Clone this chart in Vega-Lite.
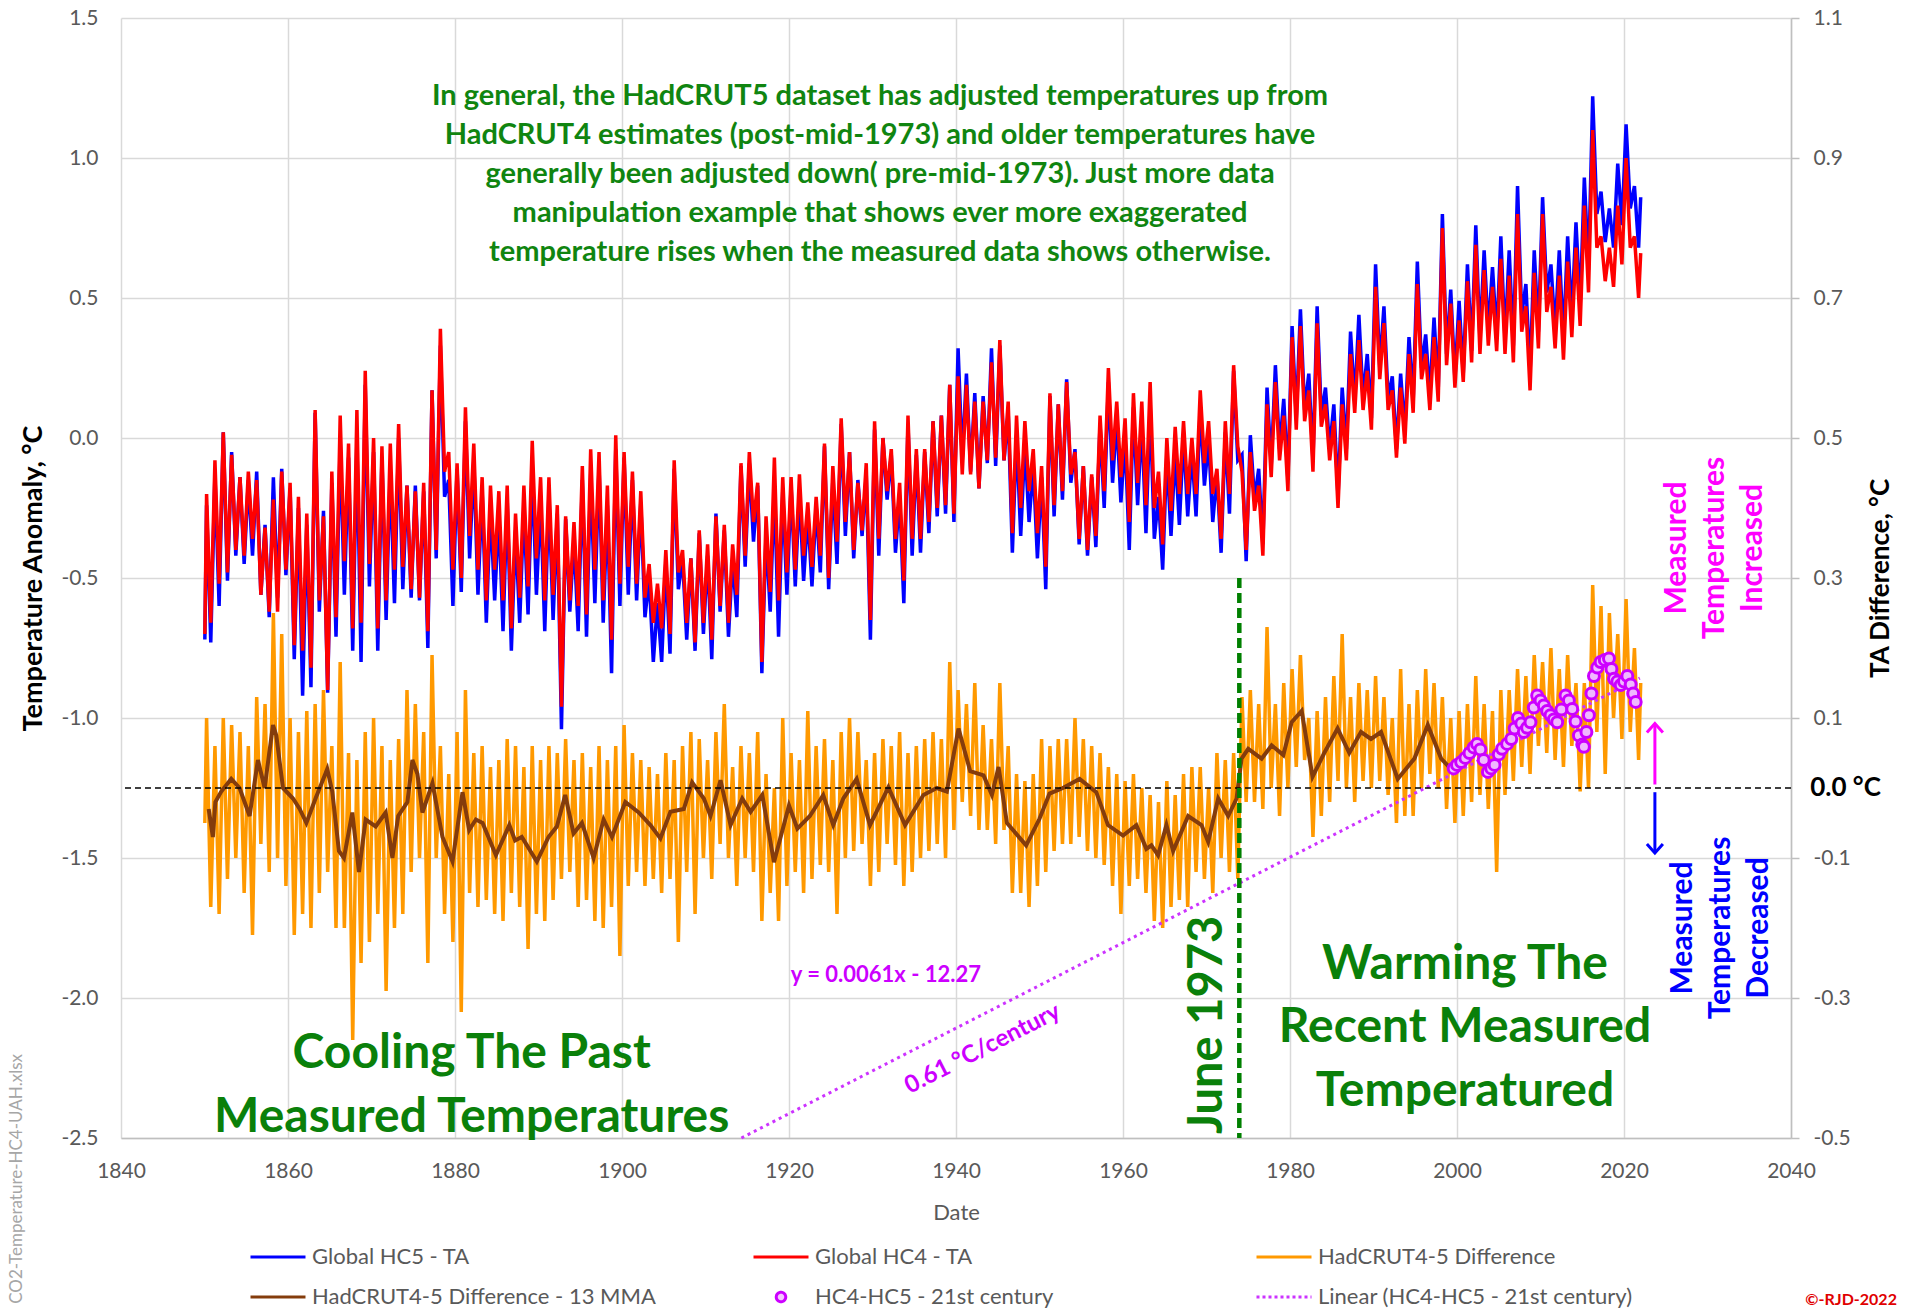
{
"$schema":"https://vega.github.io/schema/vega-lite/v6.json",
"width":1670,"height":1120,
"autosize":{"type":"none"},
"padding":{"left":121,"top":18,"right":117,"bottom":170},
"background":"white",
"config":{"view":{"stroke":null},"text":{"font":"Lato"},"axis":{"labelFont":"Lato","titleFont":"Lato"},"legend":{"labelFont":"Lato"}},
"datasets":{
"main":[
{"t":1850.04,"a":-0.70,"b":-0.72,"d":-0.05},
{"t":1850.25,"a":-0.20,"b":-0.24,"d":0.10},{"t":1850.75,"a":-0.66,"b":-0.73,"d":-0.17},
{"t":1851.25,"a":-0.08,"b":-0.13,"d":0.06},{"t":1851.75,"a":-0.52,"b":-0.60,"d":-0.18},
{"t":1852.25,"a":0.02,"b":0.02,"d":0.10},{"t":1852.75,"a":-0.48,"b":-0.51,"d":-0.13},
{"t":1853.25,"a":-0.06,"b":-0.05,"d":0.09},{"t":1853.75,"a":-0.40,"b":-0.42,"d":-0.10},
{"t":1854.25,"a":-0.14,"b":-0.14,"d":0.08},{"t":1854.75,"a":-0.42,"b":-0.45,"d":-0.15},
{"t":1855.25,"a":-0.12,"b":-0.15,"d":0.06},{"t":1855.75,"a":-0.36,"b":-0.42,"d":-0.21},
{"t":1856.25,"a":-0.15,"b":-0.12,"d":0.13},{"t":1856.75,"a":-0.56,"b":-0.56,"d":-0.08},
{"t":1857.25,"a":-0.32,"b":-0.31,"d":0.12},{"t":1857.75,"a":-0.62,"b":-0.64,"d":-0.12},
{"t":1858.25,"a":-0.22,"b":-0.14,"d":0.25},{"t":1858.75,"a":-0.62,"b":-0.57,"d":-0.10},
{"t":1859.25,"a":-0.12,"b":-0.11,"d":0.22},{"t":1859.75,"a":-0.47,"b":-0.49,"d":-0.14},
{"t":1860.25,"a":-0.16,"b":-0.18,"d":0.10},{"t":1860.75,"a":-0.74,"b":-0.79,"d":-0.21},
{"t":1861.25,"a":-0.21,"b":-0.25,"d":0.08},{"t":1861.75,"a":-0.76,"b":-0.92,"d":-0.18},
{"t":1862.25,"a":-0.27,"b":-0.31,"d":0.11},{"t":1862.75,"a":-0.82,"b":-0.89,"d":-0.20},
{"t":1863.25,"a":0.10,"b":0.09,"d":0.12},{"t":1863.75,"a":-0.58,"b":-0.62,"d":-0.15},
{"t":1864.25,"a":-0.28,"b":-0.26,"d":0.14},{"t":1864.75,"a":-0.90,"b":-0.91,"d":-0.12},
{"t":1865.25,"a":-0.12,"b":-0.16,"d":0.06},{"t":1865.75,"a":-0.64,"b":-0.71,"d":-0.20},
{"t":1866.25,"a":0.08,"b":-0.01,"d":0.18},{"t":1866.75,"a":-0.44,"b":-0.56,"d":-0.20},
{"t":1867.25,"a":-0.02,"b":-0.07,"d":0.05},{"t":1867.75,"a":-0.68,"b":-0.76,"d":-0.36},
{"t":1868.25,"a":0.10,"b":-0.01,"d":0.04},{"t":1868.75,"a":-0.66,"b":-0.80,"d":-0.25},
{"t":1869.25,"a":0.24,"b":0.19,"d":0.08},{"t":1869.75,"a":-0.45,"b":-0.53,"d":-0.22},
{"t":1870.25,"a":0.00,"b":-0.05,"d":0.10},{"t":1870.75,"a":-0.68,"b":-0.76,"d":-0.18},
{"t":1871.25,"a":-0.03,"b":-0.07,"d":0.06},{"t":1871.75,"a":-0.58,"b":-0.65,"d":-0.29},
{"t":1872.25,"a":-0.02,"b":-0.11,"d":0.04},{"t":1872.75,"a":-0.47,"b":-0.59,"d":-0.20},
{"t":1873.25,"a":0.05,"b":0.00,"d":0.07},{"t":1873.75,"a":-0.46,"b":-0.54,"d":-0.18},
{"t":1874.25,"a":-0.17,"b":-0.17,"d":0.14},{"t":1874.75,"a":-0.54,"b":-0.57,"d":-0.12},
{"t":1875.25,"a":-0.19,"b":-0.17,"d":0.12},{"t":1875.75,"a":-0.57,"b":-0.58,"d":-0.10},
{"t":1876.25,"a":-0.16,"b":-0.19,"d":0.08},{"t":1876.75,"a":-0.69,"b":-0.75,"d":-0.25},
{"t":1877.25,"a":0.17,"b":0.17,"d":0.19},{"t":1877.75,"a":-0.40,"b":-0.43,"d":-0.10},
{"t":1878.25,"a":0.39,"b":0.33,"d":0.06},{"t":1878.75,"a":-0.12,"b":-0.21,"d":-0.18},
{"t":1879.25,"a":-0.05,"b":-0.15,"d":0.02},{"t":1879.75,"a":-0.47,"b":-0.60,"d":-0.22},
{"t":1880.25,"a":-0.09,"b":-0.11,"d":0.08},{"t":1880.75,"a":-0.50,"b":-0.55,"d":-0.32},
{"t":1881.25,"a":0.11,"b":0.06,"d":0.14},{"t":1881.75,"a":-0.35,"b":-0.43,"d":-0.15},
{"t":1882.25,"a":-0.02,"b":-0.08,"d":0.05},{"t":1882.75,"a":-0.47,"b":-0.56,"d":-0.17},
{"t":1883.25,"a":-0.14,"b":-0.19,"d":0.06},{"t":1883.75,"a":-0.58,"b":-0.66,"d":-0.16},
{"t":1884.25,"a":-0.17,"b":-0.25,"d":0.03},{"t":1884.75,"a":-0.47,"b":-0.58,"d":-0.18},
{"t":1885.25,"a":-0.19,"b":-0.27,"d":0.04},{"t":1885.75,"a":-0.58,"b":-0.69,"d":-0.19},
{"t":1886.25,"a":-0.17,"b":-0.22,"d":0.07},{"t":1886.75,"a":-0.68,"b":-0.76,"d":-0.15},
{"t":1887.25,"a":-0.27,"b":-0.33,"d":0.06},{"t":1887.75,"a":-0.57,"b":-0.66,"d":-0.17},
{"t":1888.25,"a":-0.17,"b":-0.24,"d":0.03},{"t":1888.75,"a":-0.53,"b":-0.63,"d":-0.23},
{"t":1889.25,"a":-0.01,"b":-0.11,"d":0.06},{"t":1889.75,"a":-0.43,"b":-0.56,"d":-0.18},
{"t":1890.25,"a":-0.14,"b":-0.22,"d":0.04},{"t":1890.75,"a":-0.58,"b":-0.69,"d":-0.19},
{"t":1891.25,"a":-0.14,"b":-0.20,"d":0.06},{"t":1891.75,"a":-0.56,"b":-0.65,"d":-0.16},
{"t":1892.25,"a":-0.24,"b":-0.27,"d":0.05},{"t":1892.75,"a":-0.96,"b":-1.04,"d":-0.13},
{"t":1893.25,"a":-0.28,"b":-0.29,"d":0.07},{"t":1893.75,"a":-0.58,"b":-0.62,"d":-0.12},
{"t":1894.25,"a":-0.30,"b":-0.36,"d":0.04},{"t":1894.75,"a":-0.60,"b":-0.69,"d":-0.17},
{"t":1895.25,"a":-0.10,"b":-0.15,"d":0.05},{"t":1895.75,"a":-0.63,"b":-0.71,"d":-0.16},
{"t":1896.25,"a":-0.04,"b":-0.13,"d":0.03},{"t":1896.75,"a":-0.47,"b":-0.59,"d":-0.19},
{"t":1897.25,"a":-0.05,"b":-0.10,"d":0.06},{"t":1897.75,"a":-0.58,"b":-0.66,"d":-0.20},
{"t":1898.25,"a":-0.17,"b":-0.24,"d":0.04},{"t":1898.75,"a":-0.72,"b":-0.84,"d":-0.17},
{"t":1899.25,"a":0.01,"b":-0.04,"d":0.06},{"t":1899.75,"a":-0.52,"b":-0.60,"d":-0.24},
{"t":1900.25,"a":-0.05,"b":-0.07,"d":0.09},{"t":1900.75,"a":-0.46,"b":-0.56,"d":-0.14},
{"t":1901.25,"a":-0.12,"b":-0.15,"d":0.05},{"t":1901.75,"a":-0.52,"b":-0.58,"d":-0.12},
{"t":1902.25,"a":-0.19,"b":-0.23,"d":0.04},{"t":1902.75,"a":-0.57,"b":-0.64,"d":-0.14},
{"t":1903.25,"a":-0.45,"b":-0.50,"d":0.03},{"t":1903.75,"a":-0.66,"b":-0.80,"d":-0.13},
{"t":1904.25,"a":-0.52,"b":-0.59,"d":0.02},{"t":1904.75,"a":-0.68,"b":-0.80,"d":-0.15},
{"t":1905.25,"a":-0.40,"b":-0.44,"d":0.05},{"t":1905.75,"a":-0.70,"b":-0.77,"d":-0.13},
{"t":1906.25,"a":-0.08,"b":-0.11,"d":0.04},{"t":1906.75,"a":-0.48,"b":-0.54,"d":-0.22},
{"t":1907.25,"a":-0.40,"b":-0.43,"d":0.06},{"t":1907.75,"a":-0.66,"b":-0.72,"d":-0.12},
{"t":1908.25,"a":-0.43,"b":-0.43,"d":0.08},{"t":1908.75,"a":-0.73,"b":-0.76,"d":-0.18},
{"t":1909.25,"a":-0.33,"b":-0.34,"d":0.07},{"t":1909.75,"a":-0.66,"b":-0.70,"d":-0.10},
{"t":1910.25,"a":-0.38,"b":-0.42,"d":0.04},{"t":1910.75,"a":-0.72,"b":-0.79,"d":-0.13},
{"t":1911.25,"a":-0.28,"b":-0.27,"d":0.08},{"t":1911.75,"a":-0.60,"b":-0.62,"d":-0.08},
{"t":1912.25,"a":-0.31,"b":-0.33,"d":0.12},{"t":1912.75,"a":-0.66,"b":-0.71,"d":-0.10},
{"t":1913.25,"a":-0.38,"b":-0.43,"d":0.03},{"t":1913.75,"a":-0.56,"b":-0.64,"d":-0.14},
{"t":1914.25,"a":-0.09,"b":-0.10,"d":0.06},{"t":1914.75,"a":-0.42,"b":-0.46,"d":-0.10},
{"t":1915.25,"a":-0.05,"b":-0.09,"d":0.05},{"t":1915.75,"a":-0.30,"b":-0.37,"d":-0.12},
{"t":1916.25,"a":-0.16,"b":-0.17,"d":0.08},{"t":1916.75,"a":-0.80,"b":-0.84,"d":-0.19},
{"t":1917.25,"a":-0.28,"b":-0.34,"d":0.02},{"t":1917.75,"a":-0.55,"b":-0.62,"d":-0.15},
{"t":1918.25,"a":-0.07,"b":-0.17,"d":0.00},{"t":1918.75,"a":-0.58,"b":-0.71,"d":-0.19},
{"t":1919.25,"a":-0.14,"b":-0.19,"d":0.10},{"t":1919.75,"a":-0.48,"b":-0.56,"d":-0.14},
{"t":1920.25,"a":-0.14,"b":-0.17,"d":0.05},{"t":1920.75,"a":-0.47,"b":-0.53,"d":-0.12},
{"t":1921.25,"a":-0.13,"b":-0.19,"d":0.04},{"t":1921.75,"a":-0.42,"b":-0.51,"d":-0.15},
{"t":1922.25,"a":-0.23,"b":-0.27,"d":0.11},{"t":1922.75,"a":-0.46,"b":-0.53,"d":-0.13},
{"t":1923.25,"a":-0.21,"b":-0.24,"d":0.06},{"t":1923.75,"a":-0.42,"b":-0.48,"d":-0.11},
{"t":1924.25,"a":-0.02,"b":-0.03,"d":0.07},{"t":1924.75,"a":-0.50,"b":-0.54,"d":-0.12},
{"t":1925.25,"a":-0.10,"b":-0.15,"d":0.04},{"t":1925.75,"a":-0.37,"b":-0.45,"d":-0.18},
{"t":1926.25,"a":0.07,"b":0.05,"d":0.08},{"t":1926.75,"a":-0.30,"b":-0.35,"d":-0.10},
{"t":1927.25,"a":-0.05,"b":-0.05,"d":0.10},{"t":1927.75,"a":-0.40,"b":-0.43,"d":-0.09},
{"t":1928.25,"a":-0.16,"b":-0.15,"d":0.08},{"t":1928.75,"a":-0.33,"b":-0.35,"d":-0.08},
{"t":1929.25,"a":-0.09,"b":-0.13,"d":0.04},{"t":1929.75,"a":-0.65,"b":-0.72,"d":-0.14},
{"t":1930.25,"a":0.06,"b":0.03,"d":0.05},{"t":1930.75,"a":-0.36,"b":-0.42,"d":-0.12},
{"t":1931.25,"a":0.00,"b":0.00,"d":0.07},{"t":1931.75,"a":-0.19,"b":-0.22,"d":-0.08},
{"t":1932.25,"a":-0.04,"b":-0.06,"d":0.06},{"t":1932.75,"a":-0.36,"b":-0.41,"d":-0.11},
{"t":1933.25,"a":-0.16,"b":-0.21,"d":0.08},{"t":1933.75,"a":-0.51,"b":-0.59,"d":-0.14},
{"t":1934.25,"a":0.08,"b":0.05,"d":0.05},{"t":1934.75,"a":-0.36,"b":-0.42,"d":-0.12},
{"t":1935.25,"a":-0.04,"b":-0.06,"d":0.06},{"t":1935.75,"a":-0.36,"b":-0.41,"d":-0.10},
{"t":1936.25,"a":-0.04,"b":-0.05,"d":0.07},{"t":1936.75,"a":-0.30,"b":-0.34,"d":-0.09},
{"t":1937.25,"a":0.06,"b":0.06,"d":0.08},{"t":1937.75,"a":-0.25,"b":-0.28,"d":-0.08},
{"t":1938.25,"a":0.08,"b":0.08,"d":0.07},{"t":1938.75,"a":-0.24,"b":-0.27,"d":-0.10},
{"t":1939.25,"a":0.19,"b":0.19,"d":0.18},{"t":1939.75,"a":-0.27,"b":-0.30,"d":-0.06},
{"t":1940.25,"a":0.22,"b":0.32,"d":0.14},{"t":1940.75,"a":-0.13,"b":-0.08,"d":-0.02},
{"t":1941.25,"a":0.19,"b":0.23,"d":0.12},{"t":1941.75,"a":-0.13,"b":-0.12,"d":-0.04},
{"t":1942.25,"a":0.13,"b":0.16,"d":0.15},{"t":1942.75,"a":-0.18,"b":-0.18,"d":-0.06},
{"t":1943.25,"a":0.13,"b":0.15,"d":0.09},{"t":1943.75,"a":-0.08,"b":-0.09,"d":-0.06},
{"t":1944.25,"a":0.27,"b":0.32,"d":0.07},{"t":1944.75,"a":-0.07,"b":-0.10,"d":-0.08},
{"t":1945.25,"a":0.35,"b":0.33,"d":0.15},{"t":1945.75,"a":-0.08,"b":-0.08,"d":-0.06},
{"t":1946.25,"a":0.13,"b":0.09,"d":0.06},{"t":1946.75,"a":-0.34,"b":-0.41,"d":-0.15},
{"t":1947.25,"a":0.08,"b":0.01,"d":0.02},{"t":1947.75,"a":-0.25,"b":-0.35,"d":-0.15},
{"t":1948.25,"a":0.06,"b":-0.02,"d":0.01},{"t":1948.75,"a":-0.19,"b":-0.30,"d":-0.17},
{"t":1949.25,"a":-0.04,"b":-0.10,"d":0.02},{"t":1949.75,"a":-0.34,"b":-0.43,"d":-0.14},
{"t":1950.25,"a":-0.10,"b":-0.14,"d":0.07},{"t":1950.75,"a":-0.46,"b":-0.54,"d":-0.12},
{"t":1951.25,"a":0.16,"b":0.15,"d":0.06},{"t":1951.75,"a":-0.24,"b":-0.28,"d":-0.09},
{"t":1952.25,"a":0.12,"b":0.12,"d":0.07},{"t":1952.75,"a":-0.19,"b":-0.22,"d":-0.08},
{"t":1953.25,"a":0.20,"b":0.21,"d":0.07},{"t":1953.75,"a":-0.13,"b":-0.16,"d":-0.08},
{"t":1954.25,"a":-0.05,"b":-0.04,"d":0.10},{"t":1954.75,"a":-0.36,"b":-0.38,"d":-0.07},
{"t":1955.25,"a":-0.10,"b":-0.10,"d":0.07},{"t":1955.75,"a":-0.40,"b":-0.42,"d":-0.09},
{"t":1956.25,"a":-0.13,"b":-0.14,"d":0.06},{"t":1956.75,"a":-0.35,"b":-0.39,"d":-0.10},
{"t":1957.25,"a":0.08,"b":0.05,"d":0.05},{"t":1957.75,"a":-0.19,"b":-0.25,"d":-0.11},
{"t":1958.25,"a":0.25,"b":0.20,"d":0.03},{"t":1958.75,"a":-0.08,"b":-0.16,"d":-0.14},
{"t":1959.25,"a":0.13,"b":0.07,"d":0.02},{"t":1959.75,"a":-0.14,"b":-0.23,"d":-0.18},
{"t":1960.25,"a":0.07,"b":0.00,"d":0.01},{"t":1960.75,"a":-0.30,"b":-0.40,"d":-0.14},
{"t":1961.25,"a":0.16,"b":0.11,"d":0.02},{"t":1961.75,"a":-0.16,"b":-0.24,"d":-0.13},
{"t":1962.25,"a":0.13,"b":0.06,"d":0.00},{"t":1962.75,"a":-0.24,"b":-0.34,"d":-0.15},
{"t":1963.25,"a":0.20,"b":0.12,"d":-0.01},{"t":1963.75,"a":-0.25,"b":-0.36,"d":-0.19},
{"t":1964.25,"a":-0.12,"b":-0.21,"d":-0.02},{"t":1964.75,"a":-0.38,"b":-0.47,"d":-0.20},
{"t":1965.25,"a":0.00,"b":-0.06,"d":0.01},{"t":1965.75,"a":-0.26,"b":-0.35,"d":-0.17},
{"t":1966.25,"a":0.04,"b":-0.05,"d":-0.01},{"t":1966.75,"a":-0.20,"b":-0.31,"d":-0.16},
{"t":1967.25,"a":0.06,"b":0.01,"d":0.02},{"t":1967.75,"a":-0.20,"b":-0.28,"d":-0.17},
{"t":1968.25,"a":0.00,"b":-0.05,"d":0.03},{"t":1968.75,"a":-0.20,"b":-0.28,"d":-0.12},
{"t":1969.25,"a":0.17,"b":0.11,"d":0.03},{"t":1969.75,"a":-0.09,"b":-0.17,"d":-0.13},
{"t":1970.25,"a":0.06,"b":-0.01,"d":0.00},{"t":1970.75,"a":-0.20,"b":-0.30,"d":-0.15},
{"t":1971.25,"a":-0.11,"b":-0.13,"d":0.05},{"t":1971.75,"a":-0.36,"b":-0.41,"d":-0.10},
{"t":1972.25,"a":0.06,"b":0.02,"d":0.04},{"t":1972.75,"a":-0.20,"b":-0.27,"d":-0.12},
{"t":1973.25,"a":0.26,"b":0.24,"d":0.05},{"t":1973.75,"a":-0.03,"b":-0.08,"d":-0.13},
{"t":1974.25,"a":-0.12,"b":-0.06,"d":0.13},{"t":1974.75,"a":-0.40,"b":-0.44,"d":-0.02},
{"t":1975.25,"a":-0.05,"b":0.01,"d":0.14},{"t":1975.75,"a":-0.26,"b":-0.22,"d":-0.02},
{"t":1976.25,"a":-0.17,"b":-0.11,"d":0.12},{"t":1976.75,"a":-0.42,"b":-0.38,"d":-0.03},
{"t":1977.25,"a":0.12,"b":0.18,"d":0.23},{"t":1977.75,"a":-0.14,"b":-0.10,"d":0.00},
{"t":1978.25,"a":0.20,"b":0.26,"d":0.12},{"t":1978.75,"a":-0.08,"b":-0.04,"d":-0.04},
{"t":1979.25,"a":0.08,"b":0.14,"d":0.15},{"t":1979.75,"a":-0.19,"b":-0.15,"d":0.00},
{"t":1980.25,"a":0.36,"b":0.40,"d":0.17},{"t":1980.75,"a":0.03,"b":0.07,"d":0.03},
{"t":1981.25,"a":0.40,"b":0.46,"d":0.19},{"t":1981.75,"a":0.06,"b":0.10,"d":0.04},
{"t":1982.25,"a":0.17,"b":0.23,"d":0.10},{"t":1982.75,"a":-0.12,"b":-0.08,"d":-0.07},
{"t":1983.25,"a":0.41,"b":0.47,"d":0.11},{"t":1983.75,"a":0.04,"b":0.08,"d":-0.04},
{"t":1984.25,"a":0.12,"b":0.18,"d":0.13},{"t":1984.75,"a":-0.08,"b":-0.04,"d":-0.02},
{"t":1985.25,"a":0.06,"b":0.12,"d":0.16},{"t":1985.75,"a":-0.25,"b":-0.21,"d":0.01},
{"t":1986.25,"a":0.12,"b":0.18,"d":0.22},{"t":1986.75,"a":-0.08,"b":-0.04,"d":0.00},
{"t":1987.25,"a":0.30,"b":0.38,"d":0.13},{"t":1987.75,"a":0.09,"b":0.13,"d":-0.02},
{"t":1988.25,"a":0.35,"b":0.44,"d":0.15},{"t":1988.75,"a":0.10,"b":0.14,"d":0.01},
{"t":1989.25,"a":0.24,"b":0.30,"d":0.14},{"t":1989.75,"a":0.03,"b":0.07,"d":0.00},
{"t":1990.25,"a":0.54,"b":0.62,"d":0.16},{"t":1990.75,"a":0.21,"b":0.25,"d":0.01},
{"t":1991.25,"a":0.41,"b":0.47,"d":0.13},{"t":1991.75,"a":0.10,"b":0.14,"d":-0.01},
{"t":1992.25,"a":0.17,"b":0.22,"d":0.10},{"t":1992.75,"a":-0.07,"b":-0.04,"d":-0.05},
{"t":1993.25,"a":0.18,"b":0.23,"d":0.17},{"t":1993.75,"a":-0.02,"b":0.02,"d":-0.04},
{"t":1994.25,"a":0.30,"b":0.36,"d":0.12},{"t":1994.75,"a":0.09,"b":0.13,"d":-0.04},
{"t":1995.25,"a":0.55,"b":0.63,"d":0.14},{"t":1995.75,"a":0.21,"b":0.25,"d":0.00},
{"t":1996.25,"a":0.30,"b":0.37,"d":0.17},{"t":1996.75,"a":0.10,"b":0.15,"d":0.02},
{"t":1997.25,"a":0.36,"b":0.43,"d":0.15},{"t":1997.75,"a":0.13,"b":0.17,"d":0.00},
{"t":1998.25,"a":0.75,"b":0.80,"d":0.13},{"t":1998.75,"a":0.26,"b":0.30,"d":-0.03},
{"t":1999.25,"a":0.48,"b":0.53,"d":0.10},{"t":1999.75,"a":0.18,"b":0.21,"d":-0.05},
{"t":2000.25,"a":0.42,"b":0.49,"d":0.11},{"t":2000.75,"a":0.20,"b":0.23,"d":-0.04},
{"t":2001.25,"a":0.56,"b":0.62,"d":0.12},{"t":2001.75,"a":0.27,"b":0.31,"d":-0.02},
{"t":2002.25,"a":0.69,"b":0.76,"d":0.16},{"t":2002.75,"a":0.30,"b":0.35,"d":-0.01},
{"t":2003.25,"a":0.60,"b":0.67,"d":0.12},{"t":2003.75,"a":0.33,"b":0.38,"d":-0.03},
{"t":2004.25,"a":0.54,"b":0.61,"d":0.11},{"t":2004.75,"a":0.31,"b":0.36,"d":-0.12},
{"t":2005.25,"a":0.64,"b":0.72,"d":0.14},{"t":2005.75,"a":0.30,"b":0.35,"d":-0.01},
{"t":2006.25,"a":0.58,"b":0.67,"d":0.14},{"t":2006.75,"a":0.27,"b":0.33,"d":0.01},
{"t":2007.25,"a":0.80,"b":0.90,"d":0.17},{"t":2007.75,"a":0.38,"b":0.44,"d":0.03},
{"t":2008.25,"a":0.47,"b":0.55,"d":0.16},{"t":2008.75,"a":0.17,"b":0.23,"d":0.02},
{"t":2009.25,"a":0.59,"b":0.67,"d":0.19},{"t":2009.75,"a":0.32,"b":0.38,"d":0.06},
{"t":2010.25,"a":0.80,"b":0.86,"d":0.18},{"t":2010.75,"a":0.45,"b":0.52,"d":0.05},
{"t":2011.25,"a":0.54,"b":0.62,"d":0.20},{"t":2011.75,"a":0.32,"b":0.38,"d":0.04},
{"t":2012.25,"a":0.58,"b":0.67,"d":0.17},{"t":2012.75,"a":0.28,"b":0.35,"d":0.03},
{"t":2013.25,"a":0.63,"b":0.72,"d":0.19},{"t":2013.75,"a":0.36,"b":0.43,"d":0.06},
{"t":2014.25,"a":0.68,"b":0.77,"d":0.15},{"t":2014.75,"a":0.40,"b":0.47,"d":-0.005},
{"t":2015.25,"a":0.83,"b":0.93,"d":0.15},{"t":2015.75,"a":0.52,"b":0.60,"d":0.00},
{"t":2016.25,"a":1.10,"b":1.22,"d":0.29},{"t":2016.75,"a":0.68,"b":0.80,"d":0.08},
{"t":2017.25,"a":0.72,"b":0.88,"d":0.26},{"t":2017.75,"a":0.56,"b":0.70,"d":0.02},
{"t":2018.25,"a":0.68,"b":0.82,"d":0.25},{"t":2018.75,"a":0.54,"b":0.68,"d":0.10},
{"t":2019.25,"a":0.83,"b":0.98,"d":0.22},{"t":2019.75,"a":0.62,"b":0.76,"d":0.07},
{"t":2020.25,"a":1.00,"b":1.12,"d":0.27},{"t":2020.75,"a":0.68,"b":0.82,"d":0.08},
{"t":2021.25,"a":0.72,"b":0.90,"d":0.20},{"t":2021.75,"a":0.50,"b":0.68,"d":0.04},
{"t":2022.0,"a":0.66,"b":0.86,"d":0.15}
],
"mma":[
{"t":1850.5,"m":-0.03},{"t":1851.0,"m":-0.07},{"t":1851.3,"m":-0.02},{"t":1852.0,"m":-0.005},{"t":1853.2,"m":0.013},{"t":1854.2,"m":0.0},{"t":1855.4,"m":-0.04},{"t":1856.4,"m":0.04},{"t":1857.2,"m":0.0},{"t":1858.2,"m":0.09},{"t":1858.6,"m":0.075},{"t":1859.4,"m":0.0},{"t":1860.6,"m":-0.015},{"t":1861.4,"m":-0.03},{"t":1862.2,"m":-0.05},{"t":1863.3,"m":-0.015},{"t":1864.7,"m":0.027},{"t":1865.3,"m":-0.005},{"t":1866.1,"m":-0.09},{"t":1866.7,"m":-0.1},{"t":1867.7,"m":-0.035},{"t":1868.5,"m":-0.12},{"t":1869.3,"m":-0.045},{"t":1870.5,"m":-0.055},{"t":1871.7,"m":-0.035},{"t":1872.5,"m":-0.1},{"t":1873.2,"m":-0.04},{"t":1874.3,"m":-0.02},{"t":1874.9,"m":0.04},{"t":1875.5,"m":0.02},{"t":1876.1,"m":-0.035},{"t":1877.3,"m":0.007},{"t":1878.5,"m":-0.07},{"t":1879.7,"m":-0.105},{"t":1880.9,"m":-0.006},{"t":1881.7,"m":-0.06},{"t":1882.5,"m":-0.045},{"t":1883.3,"m":-0.05},{"t":1884.9,"m":-0.096},{"t":1886.5,"m":-0.053},{"t":1887.2,"m":-0.075},{"t":1888.0,"m":-0.07},{"t":1889.8,"m":-0.105},{"t":1891.2,"m":-0.07},{"t":1892.2,"m":-0.055},{"t":1893.2,"m":-0.01},{"t":1894.2,"m":-0.065},{"t":1895.2,"m":-0.05},{"t":1896.6,"m":-0.1},{"t":1897.8,"m":-0.045},{"t":1898.8,"m":-0.07},{"t":1900.4,"m":-0.02},{"t":1902.0,"m":-0.035},{"t":1903.4,"m":-0.053},{"t":1904.6,"m":-0.072},{"t":1905.8,"m":-0.034},{"t":1907.4,"m":-0.03},{"t":1908.4,"m":0.008},{"t":1909.8,"m":-0.015},{"t":1910.6,"m":-0.04},{"t":1911.8,"m":0.011},{"t":1913.0,"m":-0.053},{"t":1914.4,"m":-0.015},{"t":1915.4,"m":-0.034},{"t":1916.8,"m":-0.01},{"t":1918.2,"m":-0.106},{"t":1920.0,"m":-0.025},{"t":1921.0,"m":-0.058},{"t":1922.5,"m":-0.04},{"t":1924.1,"m":-0.01},{"t":1925.3,"m":-0.053},{"t":1926.5,"m":-0.015},{"t":1928.1,"m":0.013},{"t":1929.7,"m":-0.053},{"t":1931.9,"m":0.001},{"t":1933.9,"m":-0.053},{"t":1936.1,"m":-0.01},{"t":1937.7,"m":0.0},{"t":1938.9,"m":-0.005},{"t":1940.3,"m":0.085},{"t":1941.7,"m":0.024},{"t":1943.3,"m":0.018},{"t":1944.3,"m":-0.01},{"t":1945.1,"m":0.03},{"t":1946.1,"m":-0.05},{"t":1948.4,"m":-0.082},{"t":1950.0,"m":-0.044},{"t":1951.2,"m":-0.008},{"t":1952.8,"m":0.0},{"t":1954.8,"m":0.013},{"t":1956.8,"m":-0.006},{"t":1958.2,"m":-0.053},{"t":1960.0,"m":-0.068},{"t":1961.6,"m":-0.053},{"t":1962.8,"m":-0.087},{"t":1963.4,"m":-0.082},{"t":1964.2,"m":-0.096},{"t":1965.2,"m":-0.053},{"t":1966.0,"m":-0.09},{"t":1967.8,"m":-0.04},{"t":1969.4,"m":-0.053},{"t":1970.2,"m":-0.077},{"t":1971.4,"m":-0.015},{"t":1972.6,"m":-0.04},{"t":1973.6,"m":-0.015},{"t":1974.2,"m":0.042},{"t":1975.0,"m":0.056},{"t":1976.6,"m":0.042},{"t":1977.8,"m":0.061},{"t":1979.2,"m":0.047},{"t":1980.2,"m":0.094},{"t":1981.4,"m":0.11},{"t":1982.7,"m":0.016},{"t":1984.1,"m":0.05},{"t":1985.7,"m":0.085},{"t":1987.1,"m":0.05},{"t":1988.5,"m":0.08},{"t":1989.7,"m":0.07},{"t":1990.9,"m":0.08},{"t":1992.9,"m":0.013},{"t":1994.9,"m":0.042},{"t":1996.5,"m":0.09},{"t":1998.1,"m":0.042},{"t":1999.6,"m":0.023}
],
"c21":[
{"t":1999.6,"c":0.028},{"t":2000.0,"c":0.033},{"t":2000.5,"c":0.037},{"t":2001.0,"c":0.043},{"t":2001.5,"c":0.05},{"t":2002.0,"c":0.058},{"t":2002.4,"c":0.063},{"t":2002.8,"c":0.055},{"t":2003.2,"c":0.04},{"t":2003.7,"c":0.023},{"t":2004.1,"c":0.028},{"t":2004.5,"c":0.033},{"t":2005.0,"c":0.048},{"t":2005.4,"c":0.056},{"t":2006.0,"c":0.063},{"t":2006.5,"c":0.07},{"t":2006.9,"c":0.085},{"t":2007.3,"c":0.1},{"t":2007.7,"c":0.092},{"t":2008.0,"c":0.08},{"t":2008.4,"c":0.086},{"t":2008.8,"c":0.094},{"t":2009.2,"c":0.115},{"t":2009.6,"c":0.132},{"t":2010.0,"c":0.125},{"t":2010.4,"c":0.118},{"t":2010.8,"c":0.11},{"t":2011.2,"c":0.104},{"t":2011.6,"c":0.098},{"t":2012.0,"c":0.094},{"t":2012.5,"c":0.112},{"t":2013.0,"c":0.132},{"t":2013.4,"c":0.125},{"t":2013.8,"c":0.113},{"t":2014.2,"c":0.095},{"t":2014.6,"c":0.075},{"t":2015.0,"c":0.062},{"t":2015.2,"c":0.059},{"t":2015.5,"c":0.08},{"t":2015.8,"c":0.104},{"t":2016.1,"c":0.135},{"t":2016.4,"c":0.16},{"t":2016.8,"c":0.172},{"t":2017.2,"c":0.18},{"t":2017.7,"c":0.183},{"t":2018.2,"c":0.185},{"t":2018.5,"c":0.17},{"t":2018.8,"c":0.156},{"t":2019.2,"c":0.152},{"t":2019.6,"c":0.147},{"t":2020.0,"c":0.152},{"t":2020.4,"c":0.16},{"t":2020.8,"c":0.148},{"t":2021.1,"c":0.135},{"t":2021.4,"c":0.123}
],
"trend":[{"t":1914.3,"v":-0.5},{"t":2021.9,"v":0.157}]
},
"layer":[
{"layer":[
 {"data":{"name":"main"},"mark":{"type":"line","strokeWidth":3.5},
  "encoding":{
   "x":{"field":"t","type":"quantitative","scale":{"domain":[1840,2040],"nice":false,"zero":false},
    "axis":{"values":[1840,1860,1880,1900,1920,1940,1960,1980,2000,2020,2040],"format":"d","labelFlush":false,"title":"Date","grid":true,"gridColor":"#d9d9d9","gridWidth":1.5,"domainColor":"#bfbfbf","domainWidth":1.5,"ticks":false,"labelFontSize":21,"labelColor":"#595959","labelPadding":22,"titleFontSize":22,"titleColor":"#595959","titleFontWeight":"normal","titlePadding":21}},
   "y":{"field":"b","type":"quantitative","scale":{"domain":[-2.5,1.5],"nice":false,"zero":false},
    "axis":{"orient":"left","values":[-2.5,-2,-1.5,-1,-0.5,0,0.5,1,1.5],"labelExpr":"(datum.value < 0 ? '-' : '') + format(abs(datum.value), '.1f')","labelFlush":false,"grid":true,"gridColor":"#d9d9d9","gridWidth":1.5,"domain":false,"ticks":false,"labelPadding":23,"labelFontSize":21,"labelColor":"#595959","title":"Temperature Anomaly, °C","titleFontSize":27,"titleFontWeight":"bold","titleColor":"#000000","titleAngle":-90,"titleX":-88,"titleY":560,"titleBaseline":"middle","titleAlign":"center"}},
   "color":{"datum":"Global HC5 - TA",
    "scale":{"domain":["Global HC5 - TA","Global HC4 - TA","HadCRUT4-5 Difference","HadCRUT4-5 Difference - 13 MMA","HC4-HC5 - 21st century","Linear (HC4-HC5 - 21st century)"],"range":["#0000ff","#ff0000","#ff9900","#843c0c","#cc00ff","#cc33ff"]},
    "legend":{"orient":"none","legendX":128,"legendY":1210,"direction":"horizontal","columns":3,"gridAlign":"all","columnPadding":91,"rowPadding":-16,"title":null,"symbolType":"stroke","symbolSize":3025,"symbolStrokeWidth":3,"labelFontSize":22,"labelColor":"#595959","labelLimit":600,"labelOffset":5,
     "encode":{"symbols":{"update":{
      "shape":{"signal":"datum.value === 'HC4-HC5 - 21st century' ? 'circle' : 'stroke'"},
      "size":{"signal":"datum.value === 'HC4-HC5 - 21st century' ? 90 : 3025"},
      "strokeDash":{"signal":"datum.value === 'Linear (HC4-HC5 - 21st century)' ? [3, 3] : [1, 0]"},
      "fill":{"signal":"datum.value === 'HC4-HC5 - 21st century' ? '#f4c8ff' : 'transparent'"},
      "strokeWidth":{"value":3}}}}}}
  }},
 {"data":{"name":"main"},"mark":{"type":"line","strokeWidth":3.5},
  "encoding":{"x":{"field":"t","type":"quantitative"},"y":{"field":"a","type":"quantitative"},"color":{"datum":"Global HC4 - TA"}}}
]},
{"layer":[
 {"data":{"name":"main"},"mark":{"type":"line","strokeWidth":3.5},
  "encoding":{"x":{"field":"t","type":"quantitative"},
   "y":{"field":"d","type":"quantitative","scale":{"domain":[-0.5,1.1],"nice":false,"zero":false},
    "axis":{"orient":"right","values":[-0.5,-0.3,-0.1,0.1,0.3,0.5,0.7,0.9,1.1],"labelExpr":"(datum.value < 0 ? '-' : '') + format(abs(datum.value), '.1f')","labelFlush":false,"grid":false,"domain":true,"domainColor":"#bfbfbf","domainWidth":1.5,"ticks":true,"tickColor":"#bfbfbf","tickWidth":1.5,"tickSize":8,"labelPadding":14,"labelFontSize":21,"labelColor":"#595959","title":"TA Difference, °C","titleFontSize":26,"titleFontWeight":"bold","titleColor":"#000000","titleAngle":-90,"titleX":89,"titleY":560,"titleBaseline":"middle","titleAlign":"center"}},
   "color":{"datum":"HadCRUT4-5 Difference"}}},
 {"data":{"name":"mma"},"mark":{"type":"line","strokeWidth":4},
  "encoding":{"x":{"field":"t","type":"quantitative"},"y":{"field":"m","type":"quantitative"},"color":{"datum":"HadCRUT4-5 Difference - 13 MMA"}}},
 {"data":{"name":"trend"},"mark":{"type":"line","strokeWidth":3,"strokeDash":[3,4]},
  "encoding":{"x":{"field":"t","type":"quantitative"},"y":{"field":"v","type":"quantitative"},"color":{"datum":"Linear (HC4-HC5 - 21st century)"}}},
 {"data":{"name":"c21"},"mark":{"type":"point","shape":"circle","filled":false,"fill":"#f0b8ff","fillOpacity":1,"strokeWidth":3,"size":120,"opacity":1},
  "encoding":{"x":{"field":"t","type":"quantitative"},"y":{"field":"c","type":"quantitative"},"color":{"datum":"HC4-HC5 - 21st century"}}},
 {"data":{"values":[{}]},"mark":{"type":"rule","color":"#000000","strokeWidth":1.5,"strokeDash":[6,4]},
  "encoding":{"y":{"datum":0}}},
 {"data":{"values":[{}]},"mark":{"type":"rule","color":"#008000","strokeWidth":4.5,"strokeDash":[10,5]},
  "encoding":{"x":{"datum":1973.93},"y":{"datum":0.3},"y2":{"datum":-0.5}}},
 {"data":{"values":[{}]},"mark":{"type":"rule","color":"#ff00ff","strokeWidth":3},
  "encoding":{"x":{"datum":2023.7},"y":{"datum":0.005},"y2":{"datum":0.09}}},
 {"data":{"values":[{}]},"mark":{"type":"point","shape":"M-0.8,0.9L0,0L0.8,0.9","filled":false,"stroke":"#ff00ff","strokeWidth":3,"size":400,"opacity":1},
  "encoding":{"x":{"datum":2023.7},"y":{"datum":0.092}}},
 {"data":{"values":[{}]},"mark":{"type":"rule","color":"#0000ff","strokeWidth":3},
  "encoding":{"x":{"datum":2023.7},"y":{"datum":-0.006},"y2":{"datum":-0.091}}},
 {"data":{"values":[{}]},"mark":{"type":"point","shape":"M-0.8,-0.9L0,0L0.8,-0.9","filled":false,"stroke":"#0000ff","strokeWidth":3,"size":400,"opacity":1},
  "encoding":{"x":{"datum":2023.7},"y":{"datum":-0.093}}}
]},
{"layer":[
 {"data":{"values":[{}]},"mark":{"type":"text","text":["In general, the HadCRUT5 dataset has adjusted temperatures up from","HadCRUT4 estimates (post-mid-1973) and older temperatures have","generally been adjusted down( pre-mid-1973). Just more data","manipulation example that shows ever more exaggerated","temperature rises when the measured data shows otherwise."],"fontSize":29,"fontWeight":"bold","color":"#108510","lineHeight":39,"align":"center","baseline":"middle"},
  "encoding":{"x":{"datum":1930.9},"y":{"datum":1.2214,"scale":{"domain":[-2.5,1.5],"nice":false,"zero":false},"axis":null}}},
 {"data":{"values":[{}]},"mark":{"type":"text","text":["Cooling The Past","Measured Temperatures"],"fontSize":48,"fontWeight":"bold","color":"#0a800a","lineHeight":64,"align":"center","baseline":"middle"},
  "encoding":{"x":{"datum":1882.0},"y":{"datum":-2.2}}},
 {"data":{"values":[{}]},"mark":{"type":"text","text":["Warming The","Recent Measured","Temperatured"],"fontSize":48,"fontWeight":"bold","color":"#0a800a","lineHeight":63.5,"align":"center","baseline":"middle"},
  "encoding":{"x":{"datum":2000.96},"y":{"datum":-1.882}}},
 {"data":{"values":[{}]},"mark":{"type":"text","text":"June 1973","fontSize":47,"fontWeight":"bold","color":"#0a800a","angle":270,"align":"center","baseline":"middle"},
  "encoding":{"x":{"datum":1970.2},"y":{"datum":-2.096}}},
 {"data":{"values":[{}]},"mark":{"type":"text","text":"y = 0.0061x - 12.27","fontSize":22,"fontWeight":"bold","color":"#cc00ff","align":"center","baseline":"middle"},
  "encoding":{"x":{"datum":1931.6},"y":{"datum":-1.918}}},
 {"data":{"values":[{}]},"mark":{"type":"text","text":"0.61 °C/century","fontSize":24,"fontWeight":"bold","color":"#cc00ff","angle":333,"align":"center","baseline":"middle"},
  "encoding":{"x":{"datum":1943.2},"y":{"datum":-2.182}}},
 {"data":{"values":[{}]},"mark":{"type":"text","text":["Measured","Temperatures","Increased"],"fontSize":30,"fontWeight":"bold","color":"#ff00ff","lineHeight":38,"angle":270,"align":"center","baseline":"middle"},
  "encoding":{"x":{"datum":2026.35},"y":{"datum":-0.393}}},
 {"data":{"values":[{}]},"mark":{"type":"text","text":["Measured","Temperatures","Decreased"],"fontSize":30,"fontWeight":"bold","color":"#0000ff","lineHeight":38,"angle":270,"align":"center","baseline":"middle"},
  "encoding":{"x":{"datum":2027.07},"y":{"datum":-1.75}}},
 {"data":{"values":[{}]},"mark":{"type":"text","text":"0.0 °C","fontSize":26,"fontWeight":"bold","color":"#000000","align":"left","baseline":"middle"},
  "encoding":{"x":{"datum":2042.3},"y":{"datum":-1.25}}},
 {"data":{"values":[{}]},"mark":{"type":"text","text":"CO2-Temperature-HC4-UAH.xlsx","fontSize":17,"color":"#a6a6a6","angle":270,"align":"center","baseline":"middle"},
  "encoding":{"x":{"datum":1827.55},"y":{"datum":-2.646}}},
 {"data":{"values":[{}]},"mark":{"type":"text","text":"©-RJD-2022","fontSize":16,"fontWeight":"bold","color":"#e00000","align":"center","baseline":"middle"},
  "encoding":{"x":{"datum":2047.2},"y":{"datum":-3.079}}}
]}
],
"resolve":{"scale":{"y":"independent"}}
}
